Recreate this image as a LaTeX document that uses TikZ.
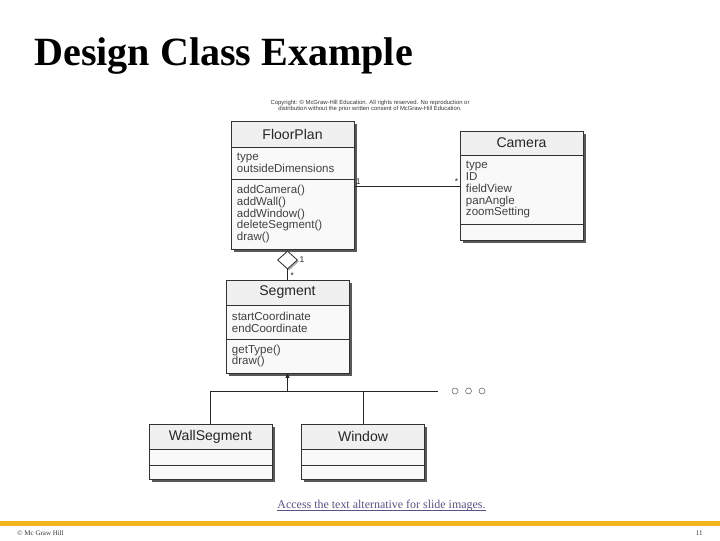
\documentclass[tikz,border=0pt]{standalone}
\usepackage{fontspec}
\setmainfont{Liberation Serif}
\setsansfont{Liberation Sans}
\usetikzlibrary{positioning,arrows.meta,shapes.geometric,shadows}
\definecolor{McGold}{HTML}{F2B51E}
\definecolor{LinkPurple}{HTML}{5B5283}

\begin{document}
\begin{tikzpicture}[
x=0.025cm, y=-0.025cm,
node distance=0pt,
boxshadow/.style={drop shadow={shadow xshift=0.07cm, shadow yshift=-0.07cm, fill=black!65, opacity=1}},
classhead/.style={draw=black!80, line width=0.6pt, fill=gray!12, outer sep=0pt, inner sep=0pt, minimum width=3.075cm, font=\sffamily\fontsize{10}{12}\selectfont, text=black!85, boxshadow},
classpart/.style={draw=black!80, line width=0.6pt, fill=gray!5, outer sep=0pt, inner xsep=0.15cm, inner ysep=0pt, text width=2.775cm, align=left, font=\sffamily\fontsize{8.2}{8.5}\selectfont, text=black!75, boxshadow},
mult/.style={font=\sffamily\fontsize{6}{6}\selectfont, inner sep=1pt, text=black!85},
link/.style={black!85, line width=0.6pt},
moredot/.style={circle, draw=black!60, line width=0.4pt, minimum size=0.15cm, inner sep=0pt}
]
\useasboundingbox (0,0) rectangle (720,540);

\node[anchor=base west, font=\bfseries\fontsize{28.5}{34}\selectfont, inner sep=0pt] (title) at (34,65) {Design Class Example};
\node[align=center, font=\sffamily\fontsize{4.2}{4.3}\selectfont, text=black!80] (copyline) at (370,106) {Copyright: © McGraw-Hill Education. All rights reserved. No reproduction or\\distribution without the prior written consent of McGraw-Hill Education.};

% FloorPlan
\node[classhead, minimum height=0.65cm] (fp) at (292.5,134) {FloorPlan};
\node[classpart, minimum height=0.8cm, below=of fp] (fpa) {type\\outsideDimensions};
\node[classpart, minimum height=1.75cm, below=of fpa] (fpm) {addCamera()\\addWall()\\addWindow()\\deleteSegment()\\draw()};

% Camera
\node[classhead, minimum height=0.6cm] (cam) at (521.5,143) {Camera};
\node[classpart, minimum height=1.725cm, below=of cam] (cama) {type\\ID\\fieldView\\panAngle\\zoomSetting};
\node[classpart, minimum height=0.4cm, below=of cama] (camm) {};

% Segment
\node[classhead, minimum height=0.625cm] (seg) at (287.5,292.5) {Segment};
\node[classpart, minimum height=0.85cm, below=of seg] (sega) {startCoordinate\\endCoordinate};
\node[classpart, minimum height=0.85cm, below=of sega] (segm) {getType()\\draw()};

% subclasses
\node[classhead, minimum height=0.625cm] (wall) at (210.5,436.5) {WallSegment};
\node[classpart, minimum height=0.4cm, below=of wall] (walla) {};
\node[classpart, minimum height=0.35cm, below=of walla] (wallm) {};
\node[classhead, minimum height=0.625cm] (win) at (363,436.5) {Window};
\node[classpart, minimum height=0.4cm, below=of win] (wina) {};
\node[classpart, minimum height=0.35cm, below=of wina] (winm) {};

% association
\coordinate (asc) at (0,186);
\draw[link] (fpm.east |- asc) -- (cama.west |- asc)
  node[mult, pos=0, above right] (fpone) {1}
  node[mult, pos=1, above left] (camany) {*};

% aggregation
\node[diamond, draw=black!80, line width=0.6pt, fill=white, inner sep=0pt, minimum width=0.5cm, minimum height=0.45cm, drop shadow={shadow xshift=0.04cm, shadow yshift=-0.04cm, fill=black!30, opacity=1}] (agg) at (287.5,260) {};
\draw[link] (agg.south) -- (seg.north) node[mult, pos=0.6, right=1pt] (segany) {*};
\node[mult, above right=-3pt and 0pt of agg.east] (fpagg) {1};

% generalization
\coordinate (bus) at (438,391);
\draw[link] (wall.north) |- (bus);
\draw[link] (win.north) -- (win.north |- bus);
\draw[link, -{Triangle[length=0.12cm, width=0.1cm]}] (segm.south |- bus) -- (segm.south);
\foreach \i/\x in {1/455,2/468.5,3/482}
  \node[moredot] (more\i) at (\x,391) {};

% footer
\node[anchor=base, font=\fontsize{8.5}{10}\selectfont, text=LinkPurple, inner sep=0pt] (alt) at (381.5,508) {Access the text alternative for slide images.};
\draw[LinkPurple, line width=0.6pt] ([yshift=-1.8pt]alt.base west) -- ([yshift=-1.8pt]alt.base east);
\fill[McGold] (0,521) rectangle (720,526);
\node[anchor=base west, font=\fontsize{5}{6}\selectfont, text=black!80, inner sep=0pt] (mgh) at (17,535) {© Mc Graw Hill};
\node[anchor=base east, font=\fontsize{5}{6}\selectfont, text=black!80, inner sep=0pt] (pageno) at (703,535) {11};
\end{tikzpicture}
\end{document}
